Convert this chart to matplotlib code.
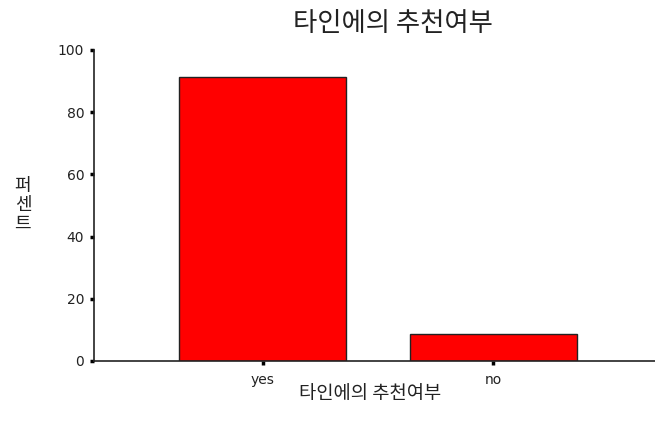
import matplotlib
matplotlib.use('Agg')
import matplotlib.pyplot as plt

plt.rcParams['font.family'] = ['Noto Sans CJK KR', 'DejaVu Sans']

categories = ['yes', 'no']
percents = [91.3, 8.7]
y_ticks = [0, 20, 40, 60, 80, 100]

fig = plt.figure(figsize=(6.55, 4.32), dpi=100)
ax = fig.add_axes([0.1435, 0.1644, 0.8565, 0.7199])

ax.bar(range(len(categories)), percents, width=0.72, color='#ff0000',
       edgecolor='#222222', linewidth=1.0, zorder=2)

ax.set_xlim(-0.73, 1.70)
ax.set_ylim(0, 100)
ax.set_xticks(range(len(categories)))
ax.set_xticklabels(categories, fontsize=10, color='#222222', family='DejaVu Sans')
ax.set_yticks(y_ticks)
ax.set_yticklabels([str(v) for v in y_ticks], fontsize=10, color='#222222', family='DejaVu Sans')
ax.tick_params(axis='both', direction='out', length=3, width=2.5, color='black')
ax.tick_params(axis='x', pad=6)
ax.tick_params(axis='y', pad=4)

for side in ['top', 'right']:
    ax.spines[side].set_visible(False)
for side in ['left', 'bottom']:
    ax.spines[side].set_linewidth(1.2)
    ax.spines[side].set_color('#222222')

fig.text(0.60, 0.945, '타인에의 추천여부', ha='center', va='center', fontsize=19,
         color='#222222', fontweight='light')
fig.text(0.565, 0.088, '타인에의 추천여부', ha='center', va='center', fontsize=13.5,
         color='#222222', fontweight='light')
fig.text(0.035, 0.525, '퍼\n센\n트', ha='center', va='center', fontsize=13,
         color='#222222', linespacing=1.05)

fig.savefig('out.png', dpi=100)
